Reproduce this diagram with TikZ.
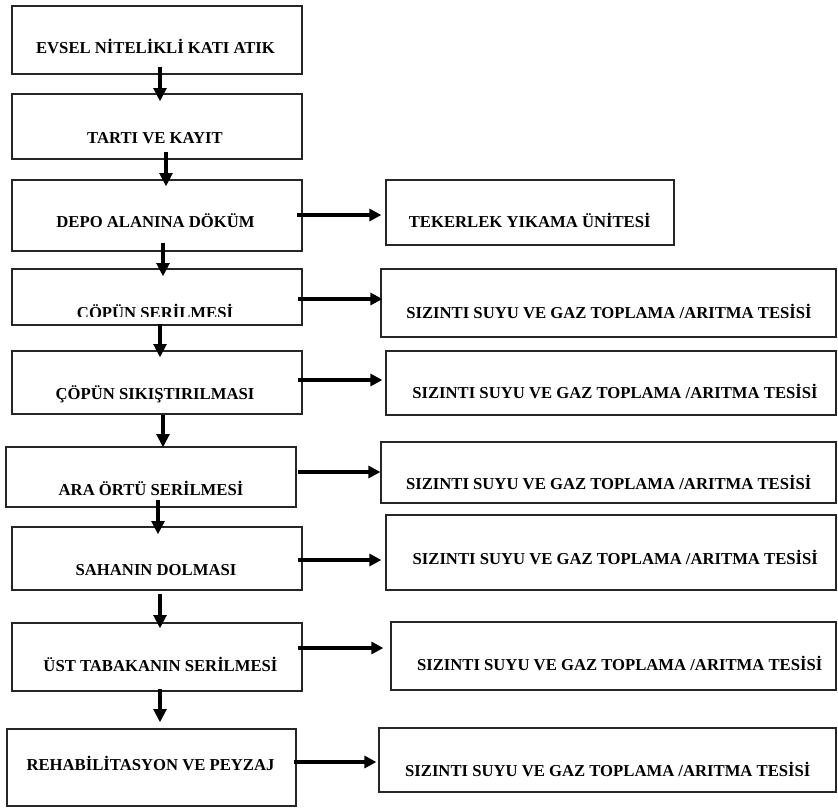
\documentclass[tikz,border=0pt]{standalone}
\usepackage{fontspec}
\setmainfont{Liberation Serif}
\usetikzlibrary{calc,arrows.meta}
\tikzset{
  bx/.style 2 args={draw=black!85, line width=0.9pt, minimum width=#1*0.75pt, minimum height=#2*0.75pt, inner sep=0pt},
  txt/.style={font=\bfseries\fontsize{12.5}{14}\selectfont, anchor=base, inner sep=0pt},
  varr/.style={line width=2.6pt, -{Triangle[length=10pt,width=9.5pt]}},
  harr/.style={line width=2.9pt, -{Triangle[length=9pt,width=9pt]}}
}
\begin{document}
\begin{tikzpicture}[x=0.75pt,y=-0.75pt]
\useasboundingbox[fill=white] (0,0) rectangle (838,808);
% left column boxes
\node[bx={290}{68}] (b1) at (157,40) {};
\node[bx={290}{65}] (b2) at (157,126.5) {};
\node[bx={290}{71}] (b3) at (157,215.5) {};
\node[bx={290}{56}] (b4) at (157,297) {};
\node[bx={290}{63}] (b5) at (157,382.5) {};
\node[bx={290}{60}] (b6) at (151,477) {};
\node[bx={290}{63}] (b7) at (157,558.5) {};
\node[bx={290}{68}] (b8) at (157,657) {};
\node[bx={289}{77}] (b9) at (151.5,767.5) {};
% right column boxes
\node[bx={288}{65}] (r1) at (530,212.5) {};
\node[bx={455}{68}] (r2) at (608.5,303) {};
\node[bx={450}{64}] (r3) at (611,383) {};
\node[bx={455}{61}] (r4) at (608.5,472.5) {};
\node[bx={450}{75}] (r5) at (611,552.5) {};
\node[bx={445}{68}] (r6) at (613.5,656) {};
\node[bx={457}{64}] (r7) at (607.5,760) {};
% left texts
\node[txt] (t1) at (155.5,53) {EVSEL NİTELİKLİ KATI ATIK};
\node[txt] (t2) at (155,143) {TARTI VE KAYIT};
\node[txt] (t3) at (155.5,227.5) {DEPO ALANINA DÖKÜM};
\begin{scope}
\clip (60,290) rectangle (260,316);
\node[txt] (t4) at (155,318.5) {ÇÖPÜN SERİLMESİ};
\end{scope}
\node[txt] (t5) at (155,399.5) {ÇÖPÜN SIKIŞTIRILMASI};
\node[txt] (t6) at (151,495) {ARA ÖRTÜ SERİLMESİ};
\node[txt] (t7) at (156,575) {SAHANIN DOLMASI};
\node[txt] (t8) at (160.5,671) {ÜST TABAKANIN SERİLMESİ};
\node[txt] (t9) at (150.5,770.5) {REHABİLİTASYON VE PEYZAJ};
% right texts
\node[txt] (u1) at (529.7,227.3) {TEKERLEK YIKAMA ÜNİTESİ};
\node[txt] (u2) at (609,318.3) {SIZINTI SUYU VE GAZ TOPLAMA /ARITMA TESİSİ};
\node[txt] (u3) at (615,398.3) {SIZINTI SUYU VE GAZ TOPLAMA /ARITMA TESİSİ};
\node[txt] (u4) at (608.7,489.3) {SIZINTI SUYU VE GAZ TOPLAMA /ARITMA TESİSİ};
\node[txt] (u5) at (615.3,564) {SIZINTI SUYU VE GAZ TOPLAMA /ARITMA TESİSİ};
\node[txt] (u6) at (619.7,670.7) {SIZINTI SUYU VE GAZ TOPLAMA /ARITMA TESİSİ};
\node[txt] (u7) at (607.8,776.7) {SIZINTI SUYU VE GAZ TOPLAMA /ARITMA TESİSİ};
% vertical arrows
\draw[varr] ($(b1.south)+(3,-8)$) -- ($(b1.south |- b2.north)+(3,8)$);
\draw[varr] ($(b2.south)+(9,-8)$) -- ($(b2.south |- b3.north)+(9,7)$);
\draw[varr] ($(b3.south)+(6,-9)$) -- ($(b3.south |- b4.north)+(6,8)$);
\draw[varr] ($(b4.south)+(3,-2)$) -- ($(b4.south |- b5.north)+(3,7)$);
\draw[varr] ($(b5.south)+(6,0)$) -- ($(b5.south |- b6.north)+(6,1)$);
\draw[varr] ($(b6.south)+(7,-8)$) -- ($(b6.south |- b7.north)+(7,8)$);
\draw[varr] ($(b7.south)+(3,3)$) -- ($(b7.south |- b8.north)+(3,6)$);
\draw[varr] ($(b8.south)+(3,-3)$) -- ($(b8.south |- b9.north)+(3,-6)$);
% horizontal arrows
\draw[harr] ($(b3.east)+(-6,-0.5)$) -- ($(b3.east -| r1.west)+(-4,-0.5)$);
\draw[harr] ($(b4.east)+(-5,2)$) -- ($(b4.east -| r2.west)+(2,2)$);
\draw[harr] ($(b5.east)+(-5,-2.5)$) -- ($(b5.east -| r3.west)+(-3,-2.5)$);
\draw[harr] ($(b6.east)+(1,-5)$) -- ($(b6.east -| r4.west)+(0,-5)$);
\draw[harr] ($(b7.east)+(-5,1.5)$) -- ($(b7.east -| r5.west)+(-4,1.5)$);
\draw[harr] ($(b8.east)+(-5,-9)$) -- ($(b8.east -| r6.west)+(-7,-9)$);
\draw[harr] ($(b9.east)+(-3,-5.5)$) -- ($(b9.east -| r7.west)+(-2,-5.5)$);
\end{tikzpicture}
\end{document}
